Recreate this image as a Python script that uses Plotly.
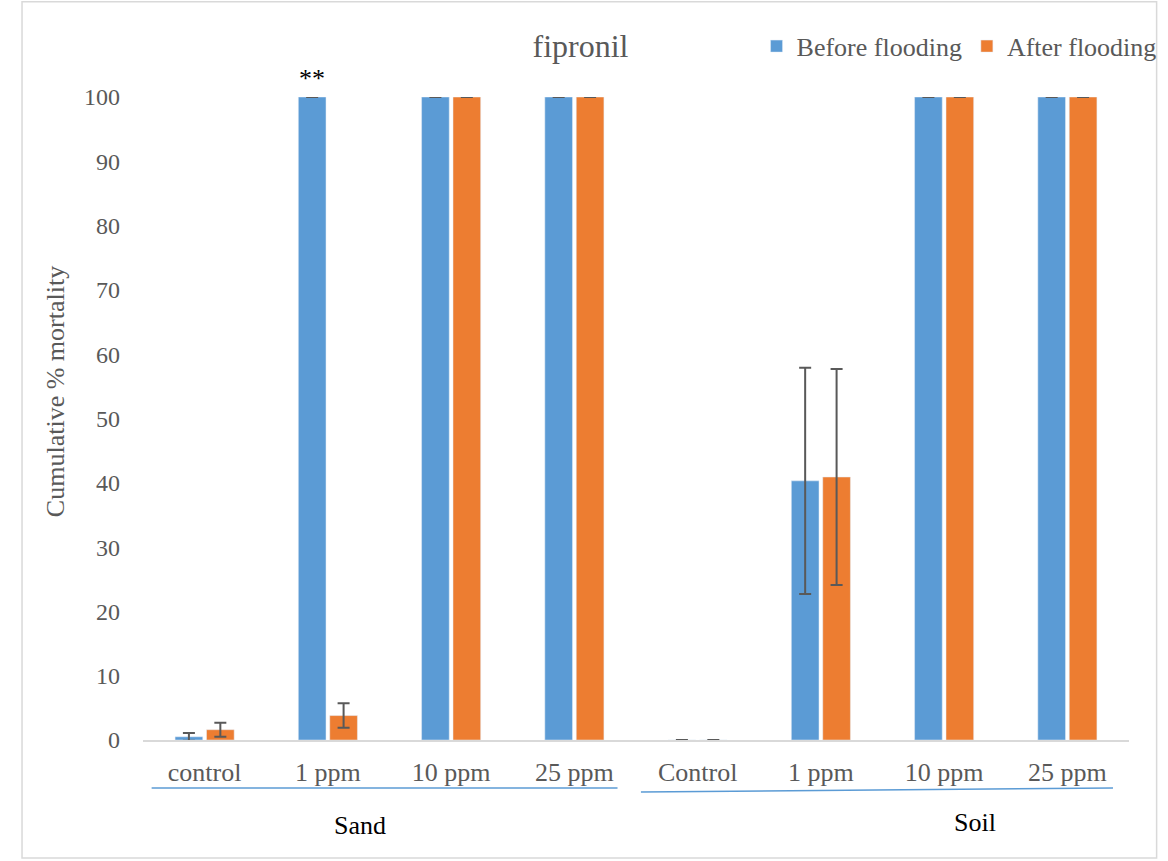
import plotly.graph_objects as go

# ---- data ----
tick_labels = ["control", "1 ppm", "10 ppm", "25 ppm", "Control", "1 ppm", "10 ppm", "25 ppm"]
groups = ["Sand", "Soil"]
before = [0.5, 100, 100, 100, 0, 40.3, 100, 100]
before_err = [0.6, 0, 0, 0, 0, 17.6, 0, 0]
after = [1.6, 3.8, 100, 100, 0, 40.9, 100, 100]
after_err = [1.1, 1.9, 0, 0, 0, 16.8, 0, 0]
series_names = ["Before flooding", "After flooding"]
title_text = "fipronil"
y_title = "Cumulative % mortality"

FONT = "Liberation Serif, Times New Roman, serif"
GREY = "#595959"
BLUE = "#5B9BD5"
ORANGE = "#ED7D31"

x = list(range(len(tick_labels)))
BARGAP = 0.49
BARGROUPGAP = 0.12

fig = go.Figure()
fig.add_trace(go.Bar(
    x=x, y=before, name=series_names[0], marker_color=BLUE,
    error_y=dict(type="data", array=before_err, color=GREY, thickness=2, width=6),
))
fig.add_trace(go.Bar(
    x=x, y=after, name=series_names[1], marker_color=ORANGE,
    error_y=dict(type="data", array=after_err, color=GREY, thickness=2, width=6),
))

slot = (1 - BARGAP) / 2
offset_before = -slot / 2

annotations = [
    dict(x=1 + offset_before, y=100, xref="x", yref="y", text="**", showarrow=False,
         yanchor="bottom", yshift=2, font=dict(family=FONT, size=26, color="#000000")),
    dict(x=1.26, y=-0.133, xref="x", yref="paper", text=groups[0], showarrow=False,
         yanchor="middle", font=dict(family=FONT, size=26, color="#000000")),
    dict(x=6.25, y=-0.128, xref="x", yref="paper", text=groups[1], showarrow=False,
         yanchor="middle", font=dict(family=FONT, size=26, color="#000000")),
    dict(x=(55 - 143) / 986, xref="paper", xanchor="center", y=0.541, yref="paper",
         yanchor="middle", text=y_title, textangle=-90, showarrow=False,
         font=dict(family=FONT, size=26, color=GREY)),
]

shapes = [
    dict(type="line", xref="x", yref="paper", x0=-0.43, x1=3.35, y0=-0.0747, y1=-0.0747,
         line=dict(color=BLUE, width=1.5)),
    dict(type="line", xref="x", yref="paper", x0=3.54, x1=7.37, y0=-0.0810, y1=-0.0747,
         line=dict(color=BLUE, width=1.5)),
    dict(type="rect", xref="paper", yref="paper", x0=-0.1227, x1=1.028, y0=-0.1835, y1=1.148,
         line=dict(color="#D9D9D9", width=1.5), layer="below"),
]

fig.update_layout(
    width=1168, height=861,
    margin=dict(l=143, r=39, t=97, b=121, autoexpand=False),
    paper_bgcolor="white", plot_bgcolor="white",
    barmode="group", bargap=BARGAP, bargroupgap=BARGROUPGAP,
    font=dict(family=FONT, color=GREY, size=24),
    title=dict(text=title_text, x=0.497, xref="container", xanchor="center",
               y=1 - 46 / 861, yref="container", yanchor="middle",
               font=dict(family=FONT, size=32, color=GREY)),
    legend=dict(orientation="h", x=1.033, xanchor="right", y=1.079, yanchor="middle",
                font=dict(family=FONT, size=26, color=GREY), traceorder="normal",
                itemwidth=30, bgcolor="rgba(0,0,0,0)"),
    xaxis=dict(range=[-0.5, 7.5], tickmode="array", tickvals=x, ticktext=tick_labels,
               showgrid=False, zeroline=False, showline=True, linecolor="#D9D9D9", linewidth=2,
               ticks="", ticklabelstandoff=8, tickfont=dict(family=FONT, size=26, color=GREY)),
    yaxis=dict(range=[0, 100], tickmode="array", tickvals=list(range(0, 101, 10)),
               showgrid=False, zeroline=False, showline=False, ticks="",
               ticklabelstandoff=22, tickfont=dict(family=FONT, size=24, color=GREY)),
    annotations=annotations,
    shapes=shapes,
)

fig.write_html("out.html", include_plotlyjs=True, full_html=True,
               config={"displayModeBar": False},
               post_script="document.body.style.margin='0';")
